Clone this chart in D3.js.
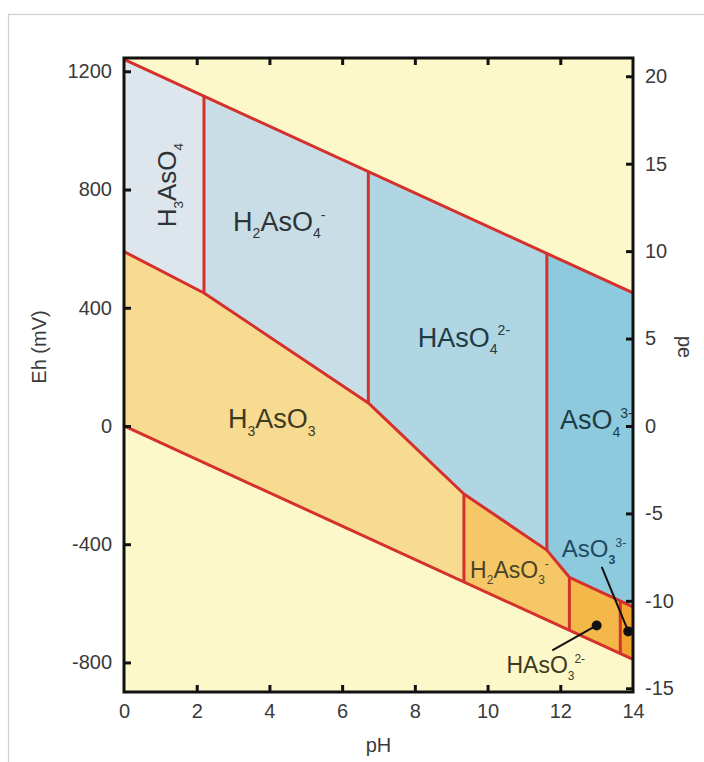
<!DOCTYPE html>
<html>
<head>
<meta charset="utf-8">
<script src="https://cdn.jsdelivr.net/npm/d3@7"></script>
<style>
  html, body { margin: 0; padding: 0; background: #fff; }
  svg { display: block; font-family: "Liberation Sans", Arial, Helvetica, sans-serif; }
</style>
</head>
<body>
<svg id="chart" width="704" height="762"></svg>
<script>
// ---------------- data ----------------
const pHTicks = [0, 2, 4, 6, 8, 10, 12, 14];
const ehTicks = [-800, -400, 0, 400, 800, 1200];
const peTicks = [-15, -10, -5, 0, 5, 10, 15, 20];

// water stability limits (pH, Eh mV)
const upperWater = [[0, 1240], [14, 450]];
const lowerWater = [[0, 0], [14, -790]];
// As(V)/As(III) redox boundary (pH, Eh mV)
const redoxBoundary = [[0, 590], [2.2, 450], [6.72, 78], [9.35, -230], [11.63, -420], [12.25, -512], [14, -612]];
// acid-base boundaries (pH)
const asVBreaks = [2.2, 6.72, 11.63];
const asIIIBreaks = [9.35, 12.25, 13.65];

const asVSpecies = ["H3AsO4", "H2AsO4-", "HAsO42-", "AsO43-"];
const asIIISpecies = ["H3AsO3", "H2AsO3-", "HAsO32-", "AsO33-"];
const asVColors = ["#dde6ed", "#c8dde6", "#b0d6e3", "#8ecadd"];
const asIIIColors = ["#f7db91", "#f6c767", "#f4b84a", "#f2a431"];

// ---------------- layout ----------------
const svg = d3.select("#chart");
const X0 = 124, X1 = 633, Y0 = 58, Y1 = 692;
const x = d3.scaleLinear().domain([0, 14]).range([X0, X1]);
const y = d3.scaleLinear().domain([-900, 1245]).range([Y1, Y0]);
const pe = d3.scaleLinear().domain([-900 / 59.16, 1245 / 59.16]).range([Y1, Y0]);

// outer frame
svg.append("rect").attr("x", 8.5).attr("y", 14.5).attr("width", 760).attr("height", 800)
  .attr("fill", "#fff").attr("stroke", "#cfcfcf").attr("stroke-width", 1.2);

// plot background
svg.append("rect").attr("x", X0).attr("y", Y0).attr("width", X1 - X0).attr("height", Y1 - Y0)
  .attr("fill", "#fdf8c9");

function interp(line, p) {
  for (let i = 0; i < line.length - 1; i++) {
    const [a, ea] = line[i], [b, eb] = line[i + 1];
    if (p >= a && p <= b) return ea + (eb - ea) * (p - a) / (b - a);
  }
  return line[line.length - 1][1];
}
function segment(line, p0, p1) {
  const pts = [[p0, interp(line, p0)]];
  line.forEach(d => { if (d[0] > p0 && d[0] < p1) pts.push(d); });
  pts.push([p1, interp(line, p1)]);
  return pts;
}
function polygon(top, bottom, p0, p1) {
  const t = segment(top, p0, p1);
  const b = segment(bottom, p0, p1).reverse();
  return t.concat(b);
}
const lineGen = d3.line().x(d => x(d[0])).y(d => y(d[1]));

const gRegions = svg.append("g");
const vEdges = [0, ...asVBreaks, 14];
asVSpecies.forEach((s, i) => {
  gRegions.append("path").attr("d", lineGen(polygon(upperWater, redoxBoundary, vEdges[i], vEdges[i + 1])) + "Z")
    .attr("fill", asVColors[i]);
});
const iiiEdges = [0, ...asIIIBreaks, 14];
asIIISpecies.forEach((s, i) => {
  gRegions.append("path").attr("d", lineGen(polygon(redoxBoundary, lowerWater, iiiEdges[i], iiiEdges[i + 1])) + "Z")
    .attr("fill", asIIIColors[i]);
});

// boundaries
const red = "#d5312c";
const gLines = svg.append("g").attr("fill", "none").attr("stroke", red).attr("stroke-width", 3)
  .attr("stroke-linejoin", "round");
[upperWater, lowerWater, redoxBoundary].forEach(l => gLines.append("path").attr("d", lineGen(l)));
asVBreaks.forEach(p => gLines.append("path").attr("d", lineGen([[p, interp(upperWater, p)], [p, interp(redoxBoundary, p)]])));
asIIIBreaks.forEach(p => gLines.append("path").attr("d", lineGen([[p, interp(redoxBoundary, p)], [p, interp(lowerWater, p)]])));

// ---------------- labels ----------------
function chem(g, parts, size, color) {
  const t = g.append("text").attr("font-size", size).attr("fill", color);
  let cur = 0;
  parts.forEach(([txt, type, bold]) => {
    let target = type === "b" ? size * 0.28 : type === "p" ? -size * 0.42 : 0;
    const ts = t.append("tspan").text(txt).attr("dy", target - cur)
      .attr("font-size", type === "n" ? size : size * 0.52);
    if (bold) ts.attr("font-weight", "bold");
    cur = target;
  });
  return t;
}
const gLab = svg.append("g");
function place(pH, eh, rot) {
  return gLab.append("g").attr("transform", `translate(${x(pH)},${y(eh)})` + (rot ? ` rotate(${rot})` : ""));
}
const dark = "#2e3336";
chem(place(1.42, 815, -90), [["H", "n"], ["3", "b"], ["AsO", "n"], ["4", "b"]], 26, dark).attr("text-anchor", "middle");
chem(place(3.0, 660), [["H", "n"], ["2", "b"], ["AsO", "n"], ["4", "b"], ["-", "p"]], 27, dark);
chem(place(8.08, 268), [["HAsO", "n"], ["4", "b"], ["2-", "p"]], 27, "#1f3b45");
chem(place(11.99, -10), [["AsO", "n"], ["4", "b"], ["3-", "p"]], 27, "#1f3b45");
chem(place(2.86, -7), [["H", "n"], ["3", "b"], ["AsO", "n"], ["3", "b"]], 27, "#3d3a22");
chem(place(9.52, -514), [["H", "n"], ["2", "b"], ["AsO", "n"], ["3", "b"], ["-", "p"]], 23, "#4a4526");
chem(place(12.04, -443), [["AsO", "n"], ["3", "b", true], ["3-", "p"]], 24, "#1e4a63");
chem(place(10.52, -836), [["HAsO", "n"], ["3", "b"], ["2-", "p"]], 23, "#3d3a22");

// callouts
const callouts = [
  { from: [11.78, -759], to: [13.0, -675] },
  { from: [13.14, -477], to: [13.87, -695] }
];
callouts.forEach(c => {
  svg.append("line").attr("x1", x(c.from[0])).attr("y1", y(c.from[1]))
    .attr("x2", x(c.to[0])).attr("y2", y(c.to[1]))
    .attr("stroke", "#111").attr("stroke-width", 2);
  svg.append("circle").attr("cx", x(c.to[0])).attr("cy", y(c.to[1])).attr("r", 5).attr("fill", "#111");
});

// ---------------- axes ----------------
const tickColor = "#3a3a3a";
const fs = 20;
const fmt = d => String(d);
function styleAxis(g) {
  g.select(".domain").remove();
  g.selectAll(".tick line").attr("stroke", "#111").attr("stroke-width", 3);
  g.selectAll(".tick text").attr("fill", tickColor).attr("font-size", fs)
    .attr("font-family", '"Liberation Sans", Arial, sans-serif');
}
const inner = pHTicks.filter(d => d > 0 && d < 14);
svg.append("g").attr("transform", `translate(0,${Y1})`)
  .call(d3.axisBottom(x).tickValues(pHTicks).tickSize(-7).tickPadding(12).tickFormat(fmt))
  .call(styleAxis)
  .call(g => g.selectAll(".tick").filter(d => d === 0 || d === 14).select("line").remove());
svg.append("g").attr("transform", `translate(0,${Y0})`)
  .call(d3.axisTop(x).tickValues(inner).tickSize(-7).tickFormat(""))
  .call(styleAxis);
svg.append("g").attr("transform", `translate(${X0},0)`)
  .call(d3.axisLeft(y).tickValues(ehTicks).tickSize(-7).tickPadding(12).tickFormat(fmt))
  .call(styleAxis);
svg.append("g").attr("transform", `translate(${X1},0)`)
  .call(d3.axisRight(pe).tickValues(peTicks).tickSize(-7).tickPadding(12).tickFormat(fmt))
  .call(styleAxis);

// frame
svg.append("rect").attr("x", X0).attr("y", Y0).attr("width", X1 - X0).attr("height", Y1 - Y0)
  .attr("fill", "none").attr("stroke", "#111").attr("stroke-width", 3);

// axis titles
svg.append("text").attr("transform", `translate(46,${(Y0 + Y1) / 2 - 28}) rotate(-90)`)
  .attr("text-anchor", "middle").attr("font-size", 20).attr("fill", tickColor).text("Eh (mV)");
svg.append("text").attr("x", (X0 + X1) / 2).attr("y", 752)
  .attr("text-anchor", "middle").attr("font-size", 20).attr("fill", tickColor).text("pH");
svg.append("text").attr("transform", `translate(678,${(Y0 + Y1) / 2 - 28}) rotate(90)`)
  .attr("text-anchor", "middle").attr("font-size", 20).attr("fill", tickColor).text("pe");
</script>
</body>
</html>
